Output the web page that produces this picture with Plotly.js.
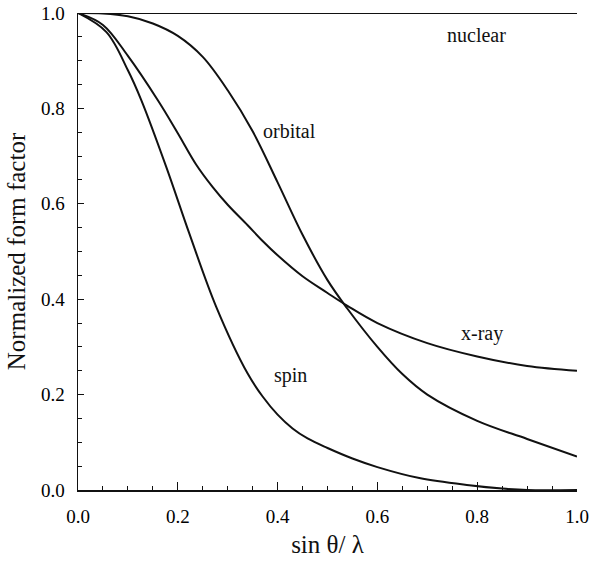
<!DOCTYPE html>
<html>
<head>
<meta charset="utf-8">
<script src="https://cdn.plot.ly/plotly-3.0.1.min.js"></script>
<style>html,body{margin:0;padding:0;background:#fff;}#chart{width:592px;height:561px;}</style>
</head>
<body>
<div id="chart"></div>
<script>
// Data
const xNuclear = [0, 1.0];
const yNuclear = [1.0, 1.0];

const xOrbital = [0, 0.05, 0.1, 0.15, 0.2, 0.25, 0.3, 0.35, 0.4, 0.45, 0.5, 0.54, 0.6, 0.65, 0.7, 0.8, 0.9, 1.0];
const yOrbital = [1.0, 0.999, 0.993, 0.978, 0.952, 0.908, 0.838, 0.752, 0.645, 0.535, 0.44, 0.38, 0.30, 0.243, 0.20, 0.145, 0.107, 0.07];

const xXray = [0, 0.05, 0.1, 0.16, 0.2, 0.237, 0.27, 0.3, 0.34, 0.37, 0.4, 0.45, 0.5, 0.54, 0.6, 0.7, 0.8, 0.9, 1.0];
const yXray = [1.0, 0.975, 0.91, 0.817, 0.748, 0.682, 0.635, 0.598, 0.555, 0.522, 0.492, 0.448, 0.413, 0.386, 0.35, 0.308, 0.28, 0.26, 0.25];

const xSpin = [0, 0.057, 0.1, 0.127, 0.177, 0.223, 0.277, 0.34, 0.37, 0.4, 0.43, 0.46, 0.5, 0.55, 0.6, 0.684, 0.784, 0.85, 0.9, 1.0];
const ySpin = [1.0, 0.96, 0.88, 0.817, 0.677, 0.538, 0.384, 0.244, 0.196, 0.158, 0.129, 0.108, 0.088, 0.066, 0.048, 0.025, 0.010, 0.003, 0.0, 0.0];

const curveLabels = ["nuclear", "orbital", "x-ray", "spin"];
const labelX = [0.798, 0.424, 0.809, 0.426];
const labelY = [0.954, 0.752, 0.328, 0.241];

const xTickVals = [0, 0.2, 0.4, 0.6, 0.8, 1.0];
const xTickText = ["0.0", "0.2", "0.4", "0.6", "0.8", "1.0"];
const yTickVals = [0, 0.2, 0.4, 0.6, 0.8, 1.0];
const yTickText = ["0.0", "0.2", "0.4", "0.6", "0.8", "1.0"];

const lineStyle = {color: '#111', width: 2, shape: 'spline', smoothing: 1};
const mk = (x, y) => ({x: x, y: y, mode: 'lines', line: lineStyle, cliponaxis: false, hoverinfo: 'skip', showlegend: false});

const traces = [mk(xNuclear, yNuclear), mk(xOrbital, yOrbital), mk(xXray, yXray), mk(xSpin, ySpin)];

const serif = '"Liberation Serif", "Times New Roman", serif';

const annotations = curveLabels.map((t, i) => ({
  x: labelX[i], y: labelY[i], xref: 'x', yref: 'y', text: t, showarrow: false,
  font: {family: serif, size: 20, color: '#111'}, xanchor: 'center', yanchor: 'middle'
}));

const layout = {
  width: 592, height: 561,
  margin: {l: 78, r: 15, t: 13, b: 71},
  paper_bgcolor: '#fff', plot_bgcolor: '#fff',
  showlegend: false,
  font: {family: serif, color: '#111'},
  xaxis: {
    range: [0, 1.0], showgrid: false, zeroline: false,
    showline: true, linecolor: '#111', linewidth: 1.5,
    ticks: 'inside', ticklen: 8, tickwidth: 1.2, tickcolor: '#111',
    tickvals: xTickVals, ticktext: xTickText,
    tickfont: {family: serif, size: 19, color: '#000'},
    ticklabelstandoff: 9,
    minor: {dtick: 0.05, tick0: 0, ticks: 'inside', ticklen: 4, tickwidth: 1, tickcolor: '#111', showgrid: false},
    title: {text: '\u00a0\u00a0sin θ/ λ', font: {family: serif, size: 25, color: '#111'}, standoff: 9}
  },
  yaxis: {
    range: [0, 1.0], showgrid: false, zeroline: false,
    showline: true, linecolor: '#111', linewidth: 1.5,
    ticks: 'inside', ticklen: 6, tickwidth: 1.2, tickcolor: '#111',
    tickvals: yTickVals, ticktext: yTickText,
    tickfont: {family: serif, size: 19, color: '#000'},
    ticklabelstandoff: 8,
    minor: {dtick: 0.05, tick0: 0, ticks: 'inside', ticklen: 4, tickwidth: 1, tickcolor: '#111', showgrid: false},
    title: {text: 'Normalized form factor', font: {family: serif, size: 25, color: '#111'}, standoff: 8}
  },
  annotations: annotations
};

Plotly.newPlot('chart', traces, layout, {displayModeBar: false, staticPlot: true});
</script>
</body>
</html>
